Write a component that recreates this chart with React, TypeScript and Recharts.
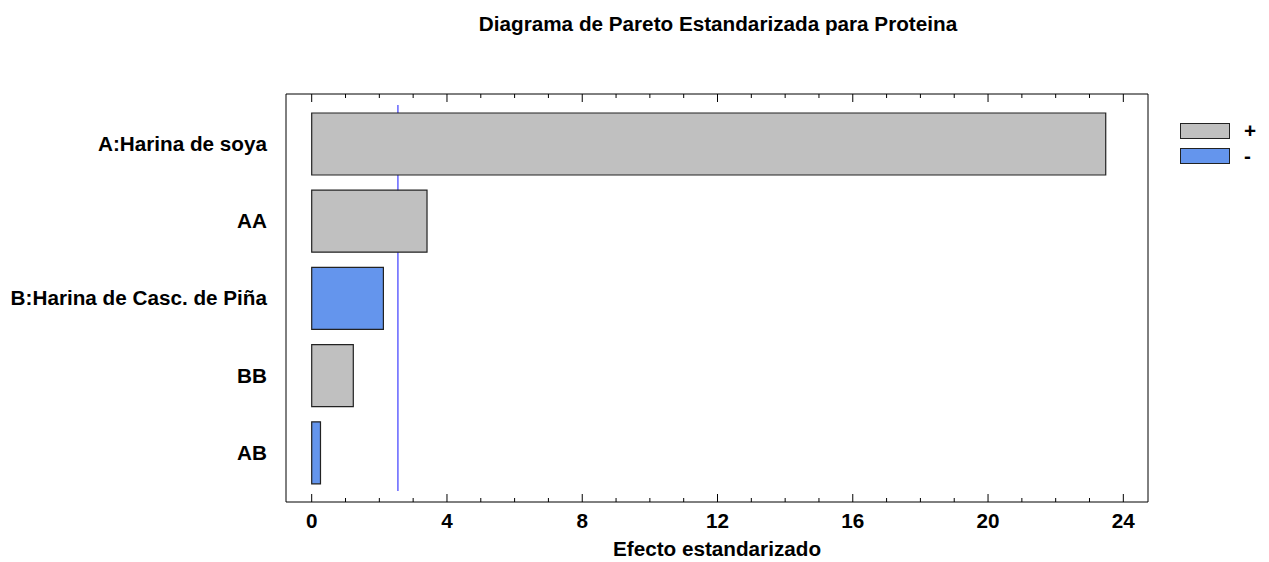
import React from 'react';
import {
  BarChart,
  Bar,
  XAxis,
  YAxis,
  Legend,
  ReferenceArea,
} from 'recharts';

const categories = [
  'A:Harina de soya',
  'AA',
  'B:Harina de Casc. de Piña',
  'BB',
  'AB',
];
const positiveEffects: (number | null)[] = [23.48, 3.41, null, 1.23, null];
const negativeEffects: (number | null)[] = [null, null, 2.12, null, 0.26];
const xTicks = [0, 1, 2, 3, 4, 5, 6, 7, 8, 9, 10, 11, 12, 13, 14, 15, 16, 17, 18, 19, 20, 21, 22, 23, 24];
const majorTickStep = 4;
const criticalValue = 2.55;
const xDomain: [number, number] = [-0.76, 24.73];

const data = categories.map((name, i) => ({
  name,
  pos: positiveEffects[i],
  neg: negativeEffects[i],
}));

const FONT = '"Liberation Sans", Arial, Helvetica, sans-serif';
const FS = 20.7;
const GRAY = '#c0c0c0';
const BLUE = '#6495ed';

const BottomTick = (props: any) => {
  const { x, y, payload } = props;
  const v = payload.value as number;
  const major = v % majorTickStep === 0;
  return (
    <g>
      <line x1={x} x2={x} y1={y} y2={y - (major ? 8 : 4)} stroke="#000" strokeWidth={1} />
      {major && (
        <text
          x={x}
          y={y + 26}
          textAnchor="middle"
          fontFamily={FONT}
          fontWeight="bold"
          fontSize={FS}
          fill="#000"
        >
          {v}
        </text>
      )}
    </g>
  );
};

const TopTick = (props: any) => {
  const { x, y, payload } = props;
  const v = payload.value as number;
  const major = v % majorTickStep === 0;
  return <line x1={x} x2={x} y1={y} y2={y + (major ? 8 : 4)} stroke="#000" strokeWidth={1} />;
};

const LeftTick = (props: any) => {
  const { x, y, payload } = props;
  return (
    <text
      x={x - 19}
      y={y}
      dy="0.36em"
      textAnchor="end"
      fontFamily={FONT}
      fontWeight="bold"
      fontSize={FS}
      fill="#000"
    >
      {payload.value}
    </text>
  );
};

const LegendContent = (props: any) => {
  const items = props.payload || [];
  return (
    <div style={{ display: 'flex', flexDirection: 'column', gap: 9 }}>
      {items.map((item: any) => (
        <div key={item.value} style={{ display: 'flex', alignItems: 'center', height: 16 }}>
          <div
            style={{
              width: 50,
              height: 16,
              boxSizing: 'border-box',
              background: item.color,
              border: '1.5px solid #222',
            }}
          />
          <span
            style={{
              marginLeft: 14,
              fontFamily: FONT,
              fontWeight: 'bold',
              fontSize: FS,
              lineHeight: '16px',
              color: '#000',
            }}
          >
            {item.value}
          </span>
        </div>
      ))}
    </div>
  );
};

export default function App() {
  return (
    <div style={{ position: 'absolute', left: 0, top: 0, width: 1269, height: 562, background: '#fff' }}>
      <svg
        width={1269}
        height={562}
        style={{ position: 'absolute', left: 0, top: 0, pointerEvents: 'none' }}
      >
        <text
          x={718}
          y={31}
          textAnchor="middle"
          fontFamily={FONT}
          fontWeight="bold"
          fontSize={FS}
          fill="#000"
        >
          Diagrama de Pareto Estandarizada para Proteina
        </text>
      </svg>
      <BarChart
        width={1269}
        height={562}
        data={data}
        layout="vertical"
        margin={{ top: 0, right: 0, bottom: 0, left: 0 }}
        barSize={62}
      >
        <XAxis
          xAxisId="bottom"
          type="number"
          orientation="bottom"
          domain={xDomain}
          allowDataOverflow
          ticks={xTicks}
          interval={0}
          height={60}
          tickSize={0}
          tickMargin={0}
          tickLine={false}
          axisLine={{ stroke: '#000', strokeWidth: 1 }}
          tick={<BottomTick />}
          label={{
            value: 'Efecto estandarizado',
            position: 'insideBottom',
            offset: 6,
            style: { fontFamily: FONT, fontWeight: 'bold', fontSize: FS, fill: '#000' },
          }}
        />
        <XAxis
          xAxisId="top"
          type="number"
          orientation="top"
          domain={xDomain}
          allowDataOverflow
          ticks={xTicks}
          interval={0}
          height={94}
          tickSize={0}
          tickMargin={0}
          tickLine={false}
          axisLine={{ stroke: '#000', strokeWidth: 1 }}
          tick={<TopTick />}
        />
        <YAxis
          type="category"
          dataKey="name"
          width={286}
          interval={0}
          tickSize={0}
          tickMargin={0}
          tickLine={false}
          axisLine={{ stroke: '#000', strokeWidth: 1 }}
          padding={{ top: 11, bottom: 11 }}
          tick={<LeftTick />}
        />
        <YAxis
          yAxisId="right"
          type="category"
          dataKey="name"
          orientation="right"
          width={121}
          tick={false}
          tickLine={false}
          axisLine={{ stroke: '#000', strokeWidth: 1 }}
        />
        <Legend
          layout="vertical"
          align="center"
          verticalAlign="middle"
          wrapperStyle={{ left: 1180, top: 123, width: 'auto', height: 'auto' }}
          content={<LegendContent />}
        />
        <Bar
          xAxisId="bottom"
          dataKey="pos"
          name="+"
          stackId="effects"
          fill={GRAY}
          stroke="#222"
          strokeWidth={1.2}
          isAnimationActive={false}
        />
        <Bar
          xAxisId="bottom"
          dataKey="neg"
          name="-"
          stackId="effects"
          fill={BLUE}
          stroke="#222"
          strokeWidth={1.2}
          isAnimationActive={false}
        />
        <ReferenceArea
          xAxisId="bottom"
          x1={criticalValue - 0.015}
          x2={criticalValue + 0.015}
          y1={categories[0]}
          y2={categories[categories.length - 1]}
          fill="#1a1aff"
          fillOpacity={1}
          stroke="none"
          ifOverflow="visible"
        />
      </BarChart>
    </div>
  );
}
